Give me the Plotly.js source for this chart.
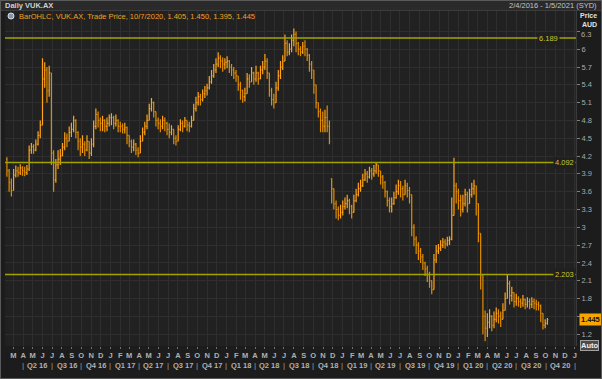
<!DOCTYPE html>
<html>
<head>
<meta charset="utf-8">
<script src="https://cdn.plot.ly/plotly-3.0.1.min.js"></script>
<style>
html,body{margin:0;padding:0;background:#1c1c1c;}
#wrap{position:relative;width:602px;height:379px;}
#chart{width:602px;height:379px;}
#frame{position:absolute;left:0;top:0;width:602px;height:379px;box-sizing:border-box;border:1px solid #5a5a5a;pointer-events:none;}
</style>
</head>
<body>
<div id="wrap"><div id="chart"></div><div id="frame"></div></div>
<script>
// ---- Data (weekly bars) ----
const startWeek = '2016-02-10';   // first weekly bar (Wednesdays)
const firstOpen = 4.15;
const closes = [
 // 2016
 3.95,3.75,3.62, 3.88,3.95,3.92,4.00,3.95, 3.92,3.98,4.30,4.36, 4.30,4.40,4.55,4.72,
 5.50,5.65,5.30,5.60,4.25, 3.80,4.05,4.15,4.20, 4.35,4.50,4.45,4.60,4.65, 4.80,4.60,4.45,4.35,
 4.40,4.30,4.45,4.25, 4.40,4.70,4.90,4.80,4.75, 4.80,4.70,4.75,4.85,
 // 2017
 4.85,4.75,4.80,4.70, 4.70,4.65,4.68,4.55, 4.45,4.35,4.40,4.30,4.25, 4.45,4.60,4.70,4.80,
 5.00,5.10,4.95,4.80,4.75, 4.70,4.80,4.75,4.65, 4.60,4.65,4.50,4.45, 4.65,4.75,4.70,4.80,4.72,
 4.70,4.80,5.00,5.10, 5.20,5.15,5.25,5.30, 5.35,5.45,5.55,5.65,5.75, 5.85,5.80,5.75,5.78,
 // 2018
 5.80,5.70,5.65,5.60,5.55, 5.40,5.30,5.20,5.25, 5.50,5.45,5.60,5.50, 5.60,5.50,5.65,5.70,
 5.80,5.60,5.30,5.15,5.10, 5.35,5.55,5.70,5.80, 6.10,5.95,6.00,6.15, 6.25,6.10,6.00,5.95,6.05,
 6.00,5.90,5.75,5.65, 5.40,5.10,4.95,4.80,4.70, 4.85,4.70,4.45,3.65, 3.40,3.30,3.20,3.25,
 // 2019
 3.35,3.40,3.45,3.35,3.25, 3.45,3.55,3.65,3.70, 3.80,3.90,3.85,3.95, 3.90,3.95,4.05,3.95,
 3.85,3.75,3.60,3.45,3.35, 3.40,3.50,3.60,3.70, 3.65,3.55,3.70,3.62,3.55, 3.00,2.80,2.70,2.60,
 2.50,2.40,2.30,2.20, 2.10,1.95,2.45,2.60,2.65, 2.70,2.75,2.72,2.78, 2.80,3.20,3.70,3.60,
 // 2020
 3.45,3.30,3.40,3.55,3.40, 3.55,3.65,3.70,3.40, 2.90,2.20,1.50,1.30, 1.40,1.50,1.35,1.45,1.55,
 1.50,1.45,1.60,1.80, 2.05,1.85,1.90,1.75, 1.80,1.75,1.72,1.78,1.70, 1.75,1.70,1.75,1.72,
 1.70,1.68,1.55,1.35,1.38, 1.445
];
const highs = [
 4.18,3.98,3.82, 3.98,4.04,4.02,4.06,4.03, 4.02,4.05,4.38,4.42, 4.40,4.48,4.62,4.80,
 5.85,5.78,5.70,5.72,5.60, 4.30,4.15,4.30,4.32, 4.42,4.60,4.58,4.70,4.76, 4.88,4.82,4.62,4.50,
 4.55,4.45,4.55,4.45, 4.50,4.80,5.00,4.95,4.85, 4.88,4.82,4.85,4.90,
 4.92,4.88,4.90,4.82, 4.78,4.75,4.76,4.70, 4.55,4.48,4.48,4.42,4.35, 4.55,4.68,4.78,4.90,
 5.08,5.18,5.12,4.95,4.85, 4.82,4.88,4.85,4.78, 4.75,4.72,4.65,4.55, 4.72,4.82,4.80,4.86,4.80,
 4.78,4.88,5.08,5.20, 5.28,5.25,5.32,5.38, 5.42,5.55,5.65,5.75,5.85, 5.95,5.90,5.86,5.85,
 5.88,5.82,5.75,5.70,5.65, 5.52,5.45,5.32,5.35, 5.60,5.58,5.70,5.62, 5.72,5.62,5.72,5.80,
 5.92,5.85,5.60,5.35,5.25, 5.45,5.65,5.80,5.90, 6.25,6.15,6.10,6.25, 6.35,6.30,6.12,6.05,6.12,
 6.15,6.02,5.92,5.80, 5.60,5.35,5.10,5.00,4.95, 4.98,5.05,4.80,3.82, 3.55,3.45,3.35,3.38,
 3.45,3.50,3.55,3.48,3.38, 3.55,3.65,3.75,3.80, 3.90,3.98,3.95,4.02, 4.00,4.05,4.10,4.05,
 3.95,3.88,3.78,3.62,3.50, 3.50,3.60,3.72,3.80, 3.78,3.70,3.80,3.75,3.68, 3.30,3.05,2.85,2.75,
 2.65,2.55,2.42,2.35, 2.25,2.10,2.55,2.70,2.72, 2.78,2.82,2.80,2.84, 2.85,3.50,4.17,3.75,
 3.65,3.55,3.55,3.65,3.60, 3.65,3.75,3.80,3.70, 3.20,2.90,2.10,1.60, 1.55,1.62,1.52,1.58,1.65,
 1.62,1.58,1.72,1.90, 2.20,2.10,2.00,1.90, 1.88,1.84,1.80,1.86,1.80, 1.82,1.80,1.82,1.80,
 1.78,1.75,1.70,1.50,1.45, 1.47
];
const lows = [
 3.85,3.60,3.52, 3.70,3.84,3.85,3.88,3.87, 3.86,3.88,3.95,4.24, 4.24,4.28,4.38,4.50,
 4.90,5.35,5.10,5.20,4.05, 3.60,3.75,3.98,4.05, 4.20,4.30,4.35,4.45,4.52, 4.60,4.50,4.30,4.20,
 4.25,4.20,4.28,4.15, 4.20,4.35,4.65,4.68,4.62, 4.62,4.60,4.62,4.70,
 4.72,4.65,4.70,4.60, 4.60,4.58,4.58,4.40, 4.35,4.25,4.28,4.22,4.18, 4.30,4.45,4.55,4.65,
 4.82,4.95,4.85,4.70,4.65, 4.60,4.65,4.62,4.55, 4.50,4.55,4.40,4.38, 4.50,4.62,4.60,4.68,4.62,
 4.60,4.68,4.80,4.95, 5.05,5.05,5.12,5.18, 5.22,5.32,5.42,5.52,5.60, 5.70,5.68,5.62,5.66,
 5.68,5.60,5.55,5.50,5.45, 5.30,5.15,5.10,5.12, 5.30,5.35,5.45,5.40, 5.45,5.40,5.50,5.58,
 5.65,5.50,5.20,5.05,5.00, 5.10,5.30,5.50,5.65, 5.85,5.88,5.90,5.95, 6.05,5.95,5.90,5.88,5.92,
 5.88,5.80,5.62,5.50, 5.25,5.00,4.85,4.60,4.60, 4.60,4.60,4.40,3.40, 3.30,3.15,3.12,3.15,
 3.20,3.30,3.32,3.22,3.15, 3.30,3.42,3.52,3.60, 3.68,3.78,3.75,3.82, 3.80,3.85,3.90,3.85,
 3.72,3.65,3.50,3.35,3.25, 3.25,3.38,3.48,3.55, 3.50,3.45,3.55,3.50,3.40, 2.85,2.68,2.55,2.45,
 2.40,2.28,2.18,2.08, 1.98,1.87,1.95,2.40,2.55, 2.60,2.65,2.64,2.68, 2.70,2.78,3.30,3.40,
 3.30,3.18,3.25,3.35,3.25, 3.40,3.50,3.55,3.20, 2.75,1.95,1.20,1.08, 1.15,1.30,1.25,1.30,1.40,
 1.38,1.32,1.45,1.60, 1.80,1.70,1.75,1.65, 1.68,1.66,1.64,1.66,1.62, 1.65,1.62,1.64,1.62,
 1.60,1.60,1.40,1.28,1.30, 1.36
];
const lastDate = '2020-10-07';
const gapWeeks = ['2018-11-28'];   // price gapped down, no bar joining the prior week
const levels = [6.189, 4.092, 2.203];
const lastPrice = 1.445;
const yTicks = [1.2,1.5,1.8,2.1,2.4,2.7,3,3.3,3.6,3.9,4.2,4.5,4.8,5.1,5.4,5.7,6,6.3];
const hiddenTickLabels = [1.5];     // covered by the last-price box in the reference
const monthInitials = ['J','F','M','A','M','J','J','A','S','O','N','D'];
const xRange = ['2016-02-04','2021-01-05'];
const headerLeft = 'Daily VUK.AX';
const headerRight = '2/4/2016 - 1/5/2021 (SYD)';
const legendText = 'BarOHLC, VUK.AX, Trade Price, 10/7/2020, 1.405, 1.450, 1.395, 1.445';

// ---- Build table ----
function fmt(d){return d.toISOString().slice(0,10);}
const dates=[];
const d0=new Date(startWeek+'T00:00:00Z');
for(let i=0;i<closes.length;i++){
  if(i===closes.length-1){dates.push(lastDate);} else {dates.push(fmt(new Date(d0.getTime()+i*7*86400000)));}
}
let opens = closes.map((c,i)=> i===0 ? firstOpen : closes[i-1]);
const hi=[], lo=[];
for(let i=0;i<closes.length;i++){
  if(gapWeeks.includes(dates[i])){
    hi.push(Math.max(highs[i],closes[i])); lo.push(Math.min(lows[i],closes[i]));
    opens[i]=Math.min(Math.max(opens[i],lo[i]),hi[i]);
  } else {
    hi.push(Math.max(highs[i],opens[i],closes[i])); lo.push(Math.min(lows[i],opens[i],closes[i]));
  }
}

// month ticks
const monthVals=[], monthText=[];
for(let y=2016;y<=2021;y++){for(let m=0;m<12;m++){
  const s=new Date(Date.UTC(y,m,1));
  if(s<new Date('2016-02-05T00:00:00Z')||s>new Date('2021-01-02T00:00:00Z'))continue;
  monthVals.push(fmt(s)); monthText.push(monthInitials[m]);
}}

const W=602,H=379, ml=5, mr=26, mt=11, mb=33;
const pw=W-ml-mr, ph=H-mt-mb;
const px=x=>(x-ml)/pw;      // pixel -> paper x
const py=y=>(H-mb-y)/ph;    // pixel -> paper y

const annotations=[];
const shapes=[];
const axisFont={family:'Liberation Sans, Arial, sans-serif',size:7.5,color:'#b0b0b0',weight:'bold'};
const yFont={family:'Liberation Sans, Arial',size:7.5,color:'#aaaaaa'};

// quarter labels
for(let y=2016;y<=2020;y++){for(let q=0;q<4;q++){
  if(y===2016&&q===0)continue;
  const s=Date.UTC(y,q*3,1), e=Date.UTC(y,q*3+3,1);
  annotations.push({xref:'x',yref:'paper',x:fmt(new Date((s+e)/2)),y:py(365),text:'Q'+(q+1)+' '+String(y).slice(2),
    showarrow:false,font:axisFont,yanchor:'middle'});
  annotations.push({xref:'x',yref:'paper',x:fmt(new Date(s)),y:py(365),text:'|',showarrow:false,
    font:{family:'Liberation Sans',size:8,color:'#a0a0a0'},yanchor:'middle'});
}}
annotations.push({xref:'x',yref:'paper',x:'2021-01-01',y:py(365),text:'|',showarrow:false,
  font:{family:'Liberation Sans',size:8,color:'#a0a0a0'},yanchor:'middle'});

// level lines and labels
const levelColor='#a4a400';
levels.forEach((v,i)=>{
  shapes.push({type:'line',xref:'paper',x0:0,x1:1,yref:'y',y0:v,y1:v,line:{color:levelColor,width:1.5},layer:'above'});
  annotations.push({xref:'paper',yref:'y',x:i===0?px(560):1,xanchor:'right',y:v,text:v.toFixed(3),showarrow:false,
    bgcolor:'#202020',borderpad:1,font:{family:'Liberation Sans, Arial',size:7.5,color:'#c8c830'}});
});

// year gridlines
for(let y=2017;y<=2021;y++){
  shapes.push({type:'line',xref:'x',x0:y+'-01-01',x1:y+'-01-01',yref:'paper',y0:0,y1:1,line:{color:'#3a3a3a',width:1},layer:'below'});
}
// header band
shapes.push({type:'rect',xref:'paper',yref:'paper',x0:px(1),x1:px(601),y0:py(10.5),y1:py(1),fillcolor:'#2a2a2a',line:{width:0},layer:'below'});
shapes.push({type:'line',xref:'paper',yref:'paper',x0:px(1),x1:px(601),y0:py(10.5),y1:py(10.5),line:{color:'#3c3c3c',width:1}});
// legend icon
shapes.push({type:'circle',xref:'paper',yref:'paper',x0:px(8),x1:px(14),y0:py(19),y1:py(13),fillcolor:'#8095b0',line:{color:'#e0e0e0',width:1},layer:'above'});

const capFont={family:'Liberation Sans, Arial',size:7,color:'#e0e0e0',weight:'bold'};
annotations.push({xref:'paper',yref:'paper',x:px(3),y:py(5.5),xanchor:'left',yanchor:'middle',text:headerLeft,showarrow:false,
  font:{family:'Liberation Sans, Arial',size:7.5,color:'#d0d0d0',weight:'bold'}});
annotations.push({xref:'paper',yref:'paper',x:px(599),y:py(5.5),xanchor:'right',yanchor:'middle',text:headerRight,showarrow:false,
  font:{family:'Liberation Sans, Arial',size:7.5,color:'#c4c4c4'}});
annotations.push({xref:'paper',yref:'paper',x:px(17),y:py(16),xanchor:'left',yanchor:'middle',text:legendText,showarrow:false,
  font:{family:'Liberation Sans, Arial',size:7.5,color:'#f0a020'}});
annotations.push({xref:'paper',yref:'paper',x:px(598),y:py(15.5),xanchor:'right',yanchor:'middle',text:'Price',showarrow:false,
  borderpad:0,font:capFont});
annotations.push({xref:'paper',yref:'paper',x:px(598),y:py(24.5),xanchor:'right',yanchor:'middle',text:'AUD',showarrow:false,
  borderpad:0,font:capFont});
// top tick label sits a little lower, under the AUD caption
annotations.push({xref:'paper',yref:'paper',x:1,xshift:4,y:py(34),xanchor:'left',yanchor:'middle',text:'6.3',showarrow:false,
  borderpad:0,font:yFont});
annotations.push({xref:'paper',yref:'y',x:1,xshift:3,y:lastPrice,xanchor:'left',yanchor:'middle',text:lastPrice.toFixed(3),showarrow:false,
  bgcolor:'#f7a600',borderpad:1,font:{family:'Liberation Sans, Arial',size:7.5,color:'#111',weight:'bold'}});
annotations.push({xref:'paper',yref:'paper',x:1,xshift:4,y:py(345.5),xanchor:'left',yanchor:'middle',text:'Auto',showarrow:false,
  bgcolor:'#4a4a4a',bordercolor:'#a0a0a0',borderwidth:1,borderpad:0,font:{family:'Liberation Sans, Arial',size:7.5,color:'#f0f0f0',weight:'bold'}});

const trace={type:'ohlc',x:dates,open:opens,high:hi,low:lo,close:closes,
  increasing:{line:{color:'#ffa31a',width:1.2}},decreasing:{line:{color:'#e08c00',width:1.2}},
  tickwidth:0.4,hoverinfo:'skip',showlegend:false};

const layout={width:W,height:H,margin:{l:ml,r:mr,t:mt,b:mb,pad:0},
  paper_bgcolor:'#1c1c1c',plot_bgcolor:'#212121',showlegend:false,
  xaxis:{type:'date',range:xRange,tickvals:monthVals,ticktext:monthText,tickangle:0,
    ticks:'outside',ticklen:2,tickcolor:'#707070',tickfont:axisFont,showgrid:true,gridcolor:'#2e2e2e',gridwidth:1,
    zeroline:false,showline:false,rangeslider:{visible:false},fixedrange:true},
  yaxis:{side:'right',range:[1.0,6.644],tickvals:yTicks,
    ticktext:yTicks.map(v=>(hiddenTickLabels.includes(v)||v===6.3)?'':String(v)),
    ticks:'outside',ticklen:3,tickcolor:'#808080',tickfont:yFont,
    showgrid:true,gridcolor:'#2e2e2e',zeroline:false,showline:true,linecolor:'#3a3a3a',fixedrange:true},
  shapes:shapes,annotations:annotations};

Plotly.newPlot('chart',[trace],layout,{staticPlot:true,displayModeBar:false});
</script>
</body>
</html>
